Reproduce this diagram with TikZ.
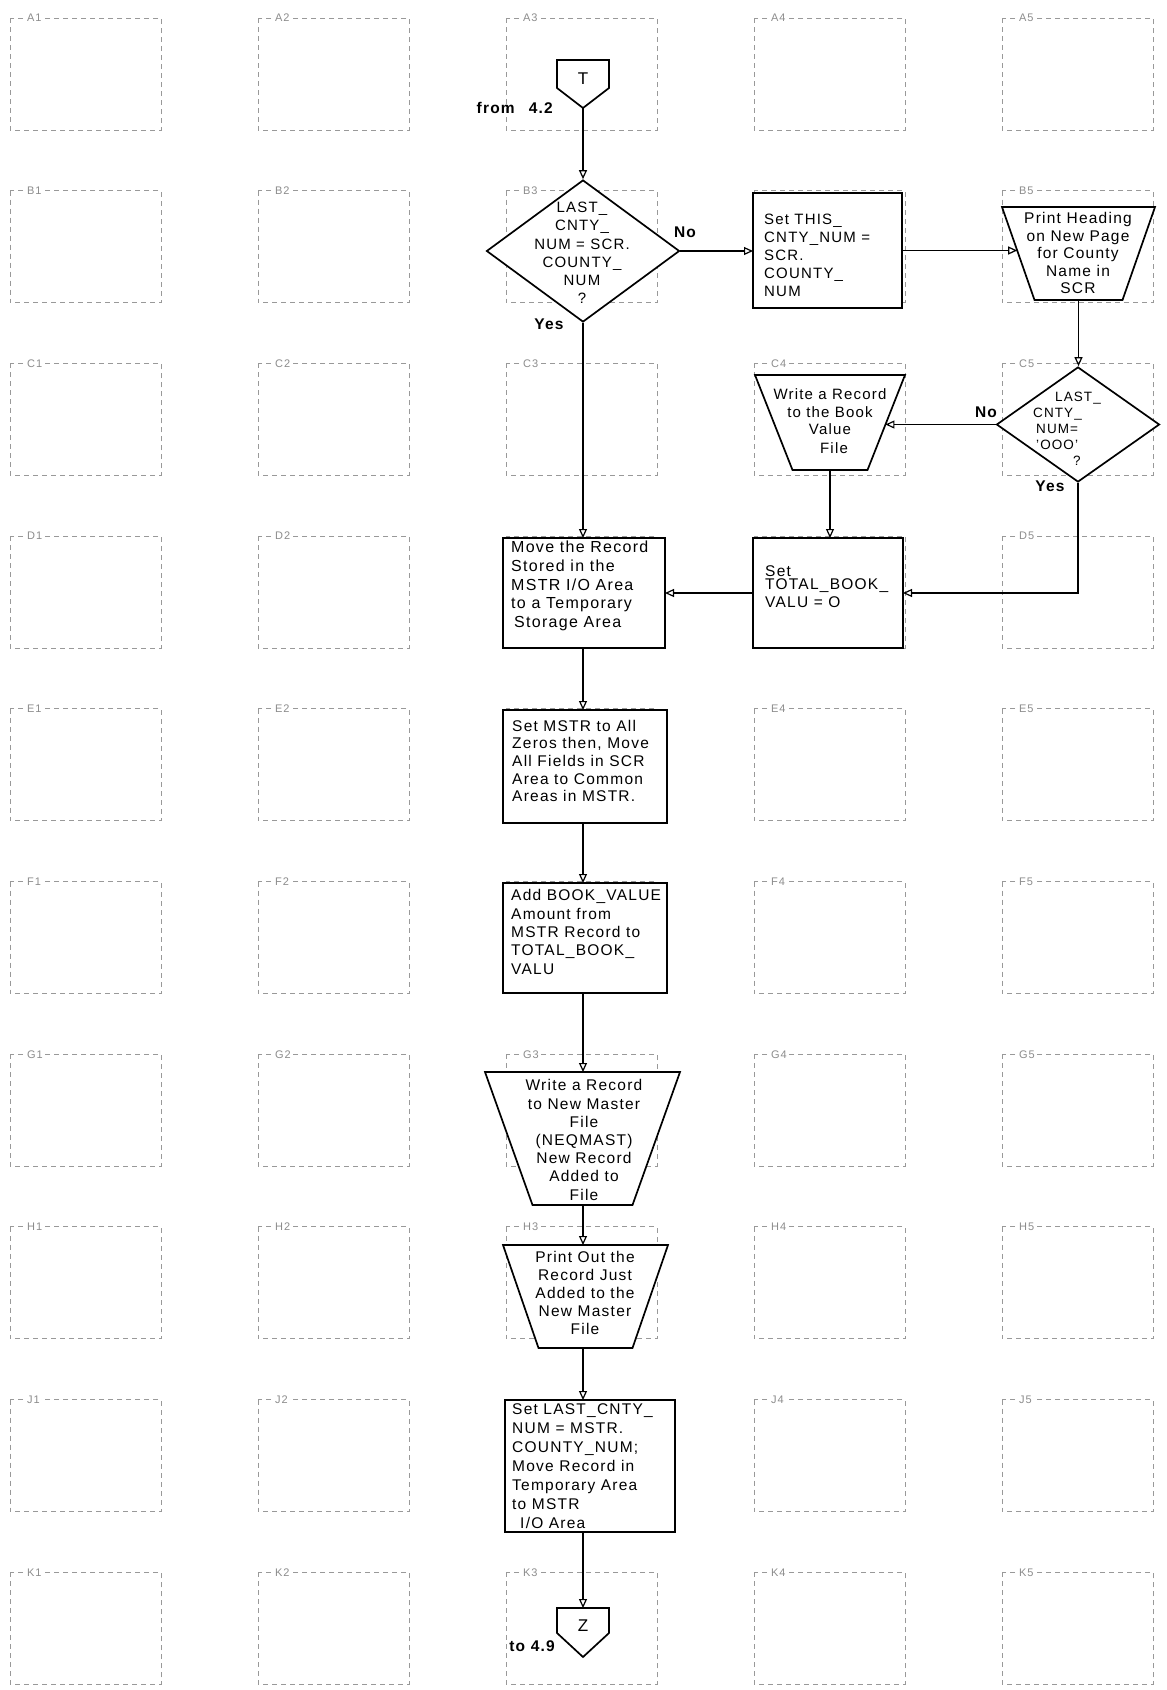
\documentclass[tikz,border=0pt]{standalone}
\usepackage{fontspec}
\setmainfont{Liberation Sans}[LetterSpace=8]
\usetikzlibrary{arrows.meta,shapes.geometric,calc}
\newcommand\myfs[2]{\fontsize{#1}{#2}\selectfont}
\tikzset{
  shp/.style={draw, line width=1.7pt, fill=white, line join=miter},
  conn/.style={line width=1.5pt, -{Triangle[open, length=9pt, width=8pt, line width=1.2pt]}},
  cell/.style={draw=black!40, line width=0.9pt, dash pattern=on 5pt off 4pt},
  celllab/.style={text=black!45, font=\myfs{11}{11}, fill=white, inner sep=1pt},
  txt/.style={align=center, inner sep=0pt},
  btxt/.style={align=left, inner sep=0pt, anchor=west},
  lab/.style={font=\myfs{15.5}{16}\bfseries, inner sep=0pt},
  geo/.style={inner sep=0pt, outer sep=0pt}
}
\begin{document}
\begin{tikzpicture}[x=1pt,y=-1pt]
\useasboundingbox[fill=white] (0,0) rectangle (1167,1690);

% ---- worksheet grid ----
\foreach \r/\L in {0/A,1/B,2/C,3/D,4/E,5/F,6/G,7/H,8/J,9/K} {
  \foreach \c in {1,...,5} {
    \pgfmathsetmacro\xl{10+248*(\c-1)}
    \pgfmathsetmacro\yt{18+172.7*\r}
    \draw[cell] (\xl,\yt) rectangle ++(151,112);
  }
}
\foreach \r/\L/\cs in {0/A/{1,2,3,4,5},1/B/{1,2,3,5},2/C/{1,2,3,4,5},3/D/{1,2,5},4/E/{1,2,4,5},
                       5/F/{1,2,4,5},6/G/{1,2,3,4,5},7/H/{1,2,3,4,5},8/J/{1,2,4,5},9/K/{1,2,3,4,5}} {
  \foreach \c in \cs {
    \pgfmathsetmacro\xl{10+248*(\c-1)}
    \pgfmathsetmacro\yt{18+172.7*\r}
    \node[celllab, anchor=west] (lab\L\c) at (\xl+16,\yt) {\L\c};
  }
}

% ---- off-page connector T ----
\node[geo, minimum width=52pt, minimum height=48pt] (T) at (583,84) {};
\draw[shp] (T.north west) -- (T.north east) -- ([yshift=20pt]T.south east) -- (T.south) -- ([yshift=20pt]T.south west) -- cycle;
\node[txt, font=\myfs{17}{17}] (Tl) at (583,79) {T};
\node[lab, anchor=east] (from) at (553,108) {from\hspace{14pt}4.2};

% ---- decision 1 ----
\node[diamond, shp, minimum width=193pt, minimum height=142pt, inner sep=0pt] (d1) at (583,251) {};
\node[txt, font=\myfs{15}{18.3}] (d1t) at (582,253) {LAST\_\\CNTY\_\\NUM = SCR.\\COUNTY\_\\NUM\\?};

% ---- set THIS box ----
\node[shp, geo, minimum width=149pt, minimum height=115pt] (setthis) at (827.5,250.5) {};
\node[btxt, font=\myfs{15}{18}] (setthist) at (764,255) {Set THIS\_\\CNTY\_NUM =\\SCR.\\COUNTY\_\\NUM};

% ---- print heading (trapezoid) ----
\node[geo, minimum width=153pt, minimum height=93pt] (ph) at (1078.5,253.5) {};
\coordinate (phBL) at ([xshift=32.5pt]ph.south west);
\coordinate (phBR) at ([xshift=-32.5pt]ph.south east);
\draw[shp] (ph.north west) -- (ph.north east) -- (phBR) -- (phBL) -- cycle;
\coordinate (phL) at ($(ph.north west)!0.468!(phBL)$);
\node[txt, font=\myfs{15.5}{17.5}] (pht) at (1078,253) {Print Heading\\on New Page\\for County\\Name in\\SCR};

% ---- decision 2 ----
\node[diamond, shp, minimum width=163pt, minimum height=115pt, inner sep=0pt] (d2) at (1078,424.5) {};
\node[btxt, font=\myfs{13.5}{16}] (d2t) at (1033,429)
  {\hspace*{22pt}LAST\_\\CNTY\_\\\hspace*{3pt}NUM=\\\hspace*{3pt}'OOO'\\\hspace*{40pt}?};

% ---- write book value (trapezoid) ----
\node[geo, minimum width=150pt, minimum height=95pt] (wb) at (830,422.5) {};
\coordinate (wbBL) at ([xshift=37.5pt]wb.south west);
\coordinate (wbBR) at ([xshift=-37.5pt]wb.south east);
\draw[shp] (wb.north west) -- (wb.north east) -- (wbBR) -- (wbBL) -- cycle;
\coordinate (wbR) at ($(wb.north east)!0.521!(wbBR)$);
\node[txt, font=\myfs{15}{17.5}] (wbt) at (830,421) {Write a Record\\to the Book\\Value\\[1pt]\hspace*{8pt}File};

% ---- set TOTAL box ----
\node[shp, geo, minimum width=150pt, minimum height=110pt] (settotal) at (828,593) {};
\node[btxt, font=\myfs{15.5}{18}] (settotalt) at (765,587) {Set\\[-5pt]TOTAL\_BOOK\_\\VALU = O};

% ---- move record box ----
\node[shp, geo, minimum width=162pt, minimum height=110pt] (move) at (584,593) {};
\node[btxt, font=\myfs{16}{18.7}] (movet) at (511,586)
  {Move the Record\\Stored in the\\MSTR I/O Area\\to a Temporary\\\hspace*{3pt}Storage Area};

% ---- set MSTR box ----
\node[shp, geo, minimum width=164pt, minimum height=113pt] (setmstr) at (585,766.5) {};
\node[btxt, font=\myfs{15.5}{17.7}] (setmstrt) at (512,761)
  {Set MSTR to All\\Zeros then, Move\\All Fields in SCR\\Area to Common\\Areas in MSTR.};

% ---- add box ----
\node[shp, geo, minimum width=164pt, minimum height=110pt] (add) at (585,938) {};
\node[btxt, font=\myfs{15.5}{18.4}] (addt) at (511,932)
  {Add BOOK\_VALUE\\Amount from\\MSTR Record to\\TOTAL\_BOOK\_\\VALU};

% ---- write new master (trapezoid) ----
\node[geo, minimum width=195pt, minimum height=133pt] (wnm) at (582.5,1138.5) {};
\coordinate (wnmBL) at ([xshift=47.5pt]wnm.south west);
\coordinate (wnmBR) at ([xshift=-47.5pt]wnm.south east);
\draw[shp] (wnm.north west) -- (wnm.north east) -- (wnmBR) -- (wnmBL) -- cycle;
\node[txt, font=\myfs{15.5}{18.2}] (wnmt) at (584,1140) {Write a Record\\to New Master\\File\\(NEQMAST)\\New Record\\Added to\\File};

% ---- print out (trapezoid) ----
\node[geo, minimum width=165pt, minimum height=103pt] (po) at (585.5,1296.5) {};
\coordinate (poBL) at ([xshift=35.5pt]po.south west);
\coordinate (poBR) at ([xshift=-35.5pt]po.south east);
\draw[shp] (po.north west) -- (po.north east) -- (poBR) -- (poBL) -- cycle;
\node[txt, font=\myfs{15.5}{18.2}] (pot) at (585,1293) {Print Out the\\Record Just\\Added to the\\New Master\\File};

% ---- set LAST box ----
\node[shp, geo, minimum width=170pt, minimum height=132pt] (setlast) at (590,1466) {};
\node[btxt, font=\myfs{15.5}{19}] (setlastt) at (512,1466)
  {Set LAST\_CNTY\_\\NUM = MSTR.\\COUNTY\_NUM;\\Move Record in\\Temporary Area\\to MSTR\\\hspace*{8pt}I/O Area};

% ---- off-page connector Z ----
\node[geo, minimum width=52pt, minimum height=49pt] (Z) at (583,1632.5) {};
\draw[shp] (Z.north west) -- (Z.north east) -- ([yshift=24pt]Z.south east) -- (Z.south) -- ([yshift=24pt]Z.south west) -- cycle;
\node[txt, font=\myfs{17}{17}] (Zl) at (583,1626) {Z};
\node[lab, anchor=east] (to) at (555,1646) {to 4.9};

% ---- connectors ----
\draw[conn] (T.south) -- (d1.north);
\draw[conn] (d1.east) -- (d1.east -| setthis.west);
\node[lab] (no1) at (685,232) {No};
\draw[conn] (d1.south) -- (d1.south |- move.north);
\node[lab] (yes1) at (549,324) {Yes};
\draw[conn] (setthis.east) -- (setthis.east -| phL);
\draw[conn] (ph.south) -- (ph.south |- d2.north);
\draw[conn] (d2.west) -- (d2.west -| wbR);
\node[lab] (no2) at (986,412) {No};
\node[lab] (yes2) at (1050,486) {Yes};
\draw[conn] (wb.south) -- (wb.south |- settotal.north);
\draw[conn] (d2.south) |- (settotal.east);
\draw[conn] (settotal.west) -- (settotal.west -| move.east);
\draw[conn] (d1.south |- move.south) -- (d1.south |- setmstr.north);
\draw[conn] (d1.south |- setmstr.south) -- (d1.south |- add.north);
\draw[conn] (d1.south |- add.south) -- (d1.south |- wnm.north);
\draw[conn] (d1.south |- wnm.south) -- (d1.south |- po.north);
\draw[conn] (d1.south |- po.south) -- (d1.south |- setlast.north);
\draw[conn] (d1.south |- setlast.south) -- (Z.north);
\end{tikzpicture}
\end{document}
